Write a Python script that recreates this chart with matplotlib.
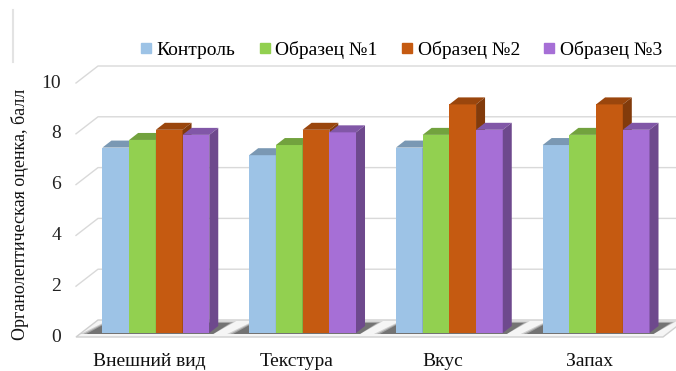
import matplotlib
matplotlib.use("Agg")
import numpy as np
import matplotlib.pyplot as plt
from matplotlib.patches import Polygon
from matplotlib.lines import Line2D
from matplotlib.colors import to_rgb

# ---- data ----
categories = ["Внешний вид", "Текстура", "Вкус", "Запах"]
series_names = ["Контроль", "Образец №1", "Образец №2", "Образец №3"]
control = [7.3, 7.0, 7.3, 7.4]
sample1 = [7.6, 7.4, 7.8, 7.8]
sample2 = [8.0, 8.0, 9.0, 9.0]
sample3 = [7.8, 7.9, 8.0, 8.0]
y_ticks = [0, 2, 4, 6, 8, 10]
y_label = "Органолептическая оценка, балл"

series = [control, sample1, sample2, sample3]
colors = ["#9DC3E6", "#92D050", "#C55A11", "#A66FD6"]

SERIF = ['Liberation Serif', 'DejaVu Serif']
plt.rcParams['font.family'] = SERIF
FS = 14

W, H = 676, 371
DPI = 100
fig = plt.figure(figsize=(W / DPI, H / DPI), dpi=DPI)
fig.patch.set_facecolor("white")

ax = fig.add_axes([81 / W, (H - 333) / H, (668 - 81) / W, (333 - 79) / H])
ax.set_xlim(-0.5, len(categories) - 0.5)
ax.set_ylim(0, 10)
ax.axis("off")

# pixel -> data unit conversions
ppx = ax.bbox.width / (len(categories))
ppy = ax.bbox.height / 10.0


def off(x, y, dx_px=0.0, dy_px=0.0):
    return (x + dx_px / ppx, y + dy_px / ppy)


def shade(c, f):
    r, g, b = to_rgb(c)
    return (r * f, g * f, b * f)


# depth offsets (pixels) of the front plane and the back wall relative to the bar plane
FRONT = (-5, -4)
BACK = (17, 13)
xl, xr = -0.5, len(categories) - 0.5
grid_c = "#D9D9D9"

# floor slab
floor = Polygon([off(xl, 0, *FRONT), off(xr, 0, *FRONT),
                 off(xr, 0, *BACK), off(xl, 0, *BACK)],
                closed=True, facecolor="#F5F5F5", edgecolor="#CFCFCF",
                lw=1.0, zorder=1, clip_on=False)
ax.add_patch(floor)

# side wall diagonals + back wall gridlines
for v in y_ticks:
    if v == 0:
        continue
    p0 = off(xl, v, *FRONT)
    p1 = off(xl, v, *BACK)
    p2 = off(xr + 0.3, v, *BACK)
    ax.add_line(Line2D([p0[0], p1[0], p2[0]], [p0[1], p1[1], p2[1]],
                       color=grid_c, lw=1.0, zorder=1.5, clip_on=False))

# y tick labels on the front plane
for v in y_ticks:
    tx, ty = off(xl, v, -20, FRONT[1])
    ax.text(tx, ty, str(v), ha="right", va="center", fontsize=FS,
            family=SERIF, color="#222222", clip_on=False)

# category labels
for i, cat in enumerate(categories):
    tx, ty = off(i, 0, FRONT[0], -20)
    ax.text(tx, ty, cat, ha="center", va="top", fontsize=FS,
            family=SERIF, color="#111111", clip_on=False)

# bars with pseudo-3D top and side faces
bw = 0.182
n = len(series)
SIDE_DX, SIDE_DY = 9, 7
for i in range(len(categories)):
    gl = i - n / 2 * bw + 0.01
    gr = gl + n * bw
    # soft floor shadow under the group
    for a, grow in [(0.2, 6), (0.3, 3), (0.45, 0)]:
        sh = Polygon([off(gl, 0, -16 - grow, -1), off(gr, 0, 4, -1),
                      off(gr, 0, 21 + grow, 10 + grow * 0.3),
                      off(gl, 0, 4, 10 + grow * 0.3)],
                     closed=True, facecolor="#3A3A3A", edgecolor="none",
                     alpha=a, zorder=2, clip_on=False)
        ax.add_patch(sh)
    for j, vals in enumerate(series):
        v = vals[i]
        x0 = gl + j * bw
        z = 3 + i * 10 + j * 2
        ax.bar(x0, v, width=bw, align="edge", color=colors[j],
               edgecolor="none", zorder=z, clip_on=False)
        top = Polygon([(x0, v), (x0 + bw, v),
                       off(x0 + bw, v, SIDE_DX, SIDE_DY),
                       off(x0, v, SIDE_DX, SIDE_DY)],
                      closed=True, facecolor=shade(colors[j], 0.78),
                      edgecolor="none", zorder=z + 0.5, clip_on=False)
        side = Polygon([(x0 + bw, 0), off(x0 + bw, 0, SIDE_DX, SIDE_DY),
                        off(x0 + bw, v, SIDE_DX, SIDE_DY), (x0 + bw, v)],
                       closed=True, facecolor=shade(colors[j], 0.66),
                       edgecolor="none", zorder=z + 0.5, clip_on=False)
        ax.add_patch(top)
        ax.add_patch(side)

# legend
handles = [Line2D([], [], marker="s", ls="", markersize=7.5, color=c,
                  markeredgecolor=c) for c in colors]
fig.legend(handles, series_names, loc="center", ncol=4, frameon=False,
           bbox_to_anchor=(401 / W, (H - 50) / H),
           prop={"family": SERIF, "size": FS},
           handlelength=0.6, handletextpad=0.25, columnspacing=1.2,
           borderpad=0)

# y axis title
fig.text(20 / W, (H - 214) / H, y_label, rotation=90, ha="center",
         va="center", fontsize=13, family=SERIF, color="#111111")

# thin frame remnant at the top left
fig.add_artist(Line2D([13 / W, 13 / W], [(H - 10) / H, (H - 62) / H],
                      transform=fig.transFigure, color="#E3E3E3", lw=1.5))

fig.savefig("out.png", dpi=DPI)
